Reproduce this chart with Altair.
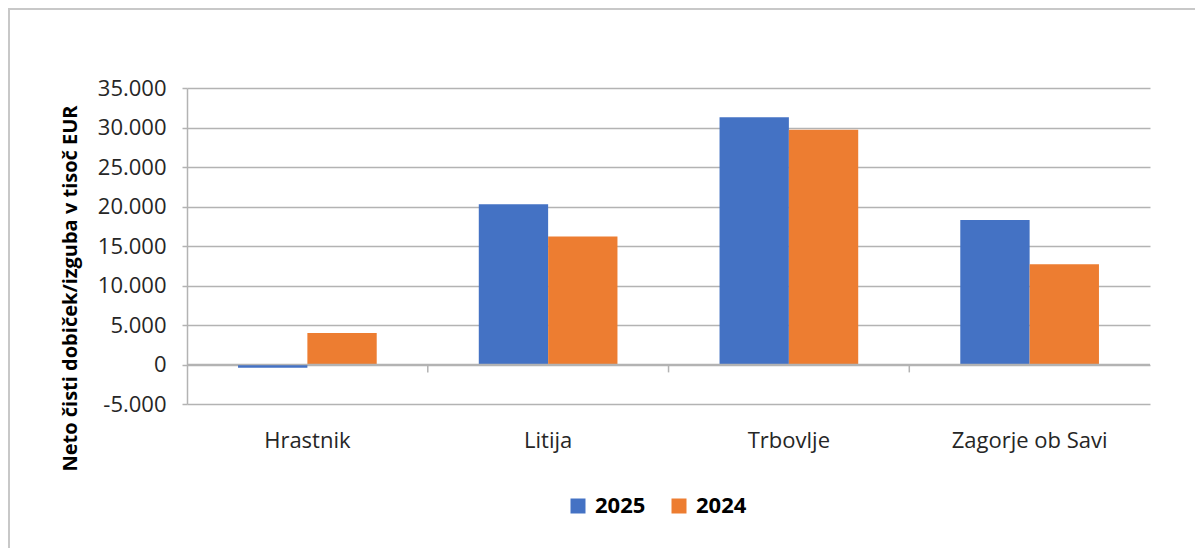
import altair as alt
import pandas as pd

categories = ["Hrastnik", "Litija", "Trbovlje", "Zagorje ob Savi"]
years = ["2025", "2024"]
values_2025 = [-400, 20300, 31300, 18300]
values_2024 = [4000, 16200, 29700, 12700]
colors = ["#4472C4", "#ED7D31"]

rows = []
for c, a, b in zip(categories, values_2025, values_2024):
    rows.append({"kraj": c, "leto": "2025", "vrednost": a})
    rows.append({"kraj": c, "leto": "2024", "vrednost": b})
df = pd.DataFrame(rows)

font = "Open Sans"
grid = "#b3b3b3"

xscale = alt.Scale(domain=categories, paddingInner=0.424, paddingOuter=0.212)
yscale = alt.Scale(domain=[-5000, 35000], nice=False)

x_axis = alt.Axis(title=None, ticks=False, domain=False, labelAngle=0,
                  labelFont=font, labelFontSize=22, labelColor="#262626",
                  labelBaseline="alphabetic", labelPadding=43)
y_axis = alt.Axis(values=list(range(-5000, 35001, 5000)), labelOverlap=False,
                  labelExpr="(datum.value < 0 ? '-' : '') + replace(format(abs(datum.value), ','), ',', '.')",
                  labelFont=font, labelFontSize=22, labelColor="#262626",
                  labelPadding=16, tickSize=5, tickColor=grid, tickWidth=1.5,
                  domainColor=grid, domainWidth=1.5, gridColor=grid, gridWidth=1.5,
                  title="Neto čisti dobiček/izguba v tisoč EUR",
                  titleFont=font, titleFontSize=20, titleFontWeight="bold",
                  titleColor="#000000", titleAngle=-90, titleX=-111, titleY=200,
                  titleAlign="center", titleBaseline="alphabetic")

bars = alt.Chart(df).mark_bar().encode(
    x=alt.X("kraj:N", scale=xscale, sort=categories, axis=x_axis),
    xOffset=alt.XOffset("leto:N", sort=years, scale=alt.Scale(paddingInner=0, paddingOuter=0)),
    y=alt.Y("vrednost:Q", scale=yscale, axis=y_axis),
    color=alt.Color("leto:N", scale=alt.Scale(domain=years, range=colors),
                    legend=alt.Legend(title=None, orient="none", direction="horizontal",
                                      legendX=380, legendY=407, symbolType="square",
                                      symbolSize=225, symbolStrokeWidth=0,
                                      labelFont=font, labelFontSize=22, labelFontWeight="bold",
                                      labelColor="#000000", labelOffset=6, columnPadding=22,
                                      padding=0)),
)

zero = alt.Chart(pd.DataFrame({"vrednost": [0]})).mark_rule(color=grid, strokeWidth=1.5).encode(
    y=alt.Y("vrednost:Q", scale=yscale, axis=y_axis)
)

tick_df = pd.DataFrame({"kraj": categories[1:], "vrednost": [0, 0, 0], "hi": [-1000, -1000, -1000]})
ticks = alt.Chart(tick_df).mark_rule(color=grid, strokeWidth=1.5, xOffset=-51).encode(
    x=alt.X("kraj:N", scale=xscale, sort=categories, bandPosition=0, axis=x_axis),
    y=alt.Y("vrednost:Q", scale=yscale, axis=y_axis),
    y2="hi:Q",
)

border_df = pd.DataFrame({"b": [0]})
border_top = alt.Chart(border_df).mark_rule(color="#c8c8c8", strokeWidth=2).encode(
    x=alt.value(-179), x2=alt.value(1020), y=alt.value(-79)
)
border_left = alt.Chart(border_df).mark_rule(color="#c8c8c8", strokeWidth=2).encode(
    x=alt.value(-178), y=alt.value(-80), y2=alt.value(470)
)

chart = alt.layer(bars, zero, ticks, border_top, border_left).properties(
    width=963, height=316,
    autosize=alt.AutoSizeParams(type="none"),
    padding={"left": 179, "top": 80, "right": 45, "bottom": 144},
    background="#ffffff",
).configure_view(stroke=None)

chart.save("out.html", embed_options={"renderer": "svg", "actions": False})
